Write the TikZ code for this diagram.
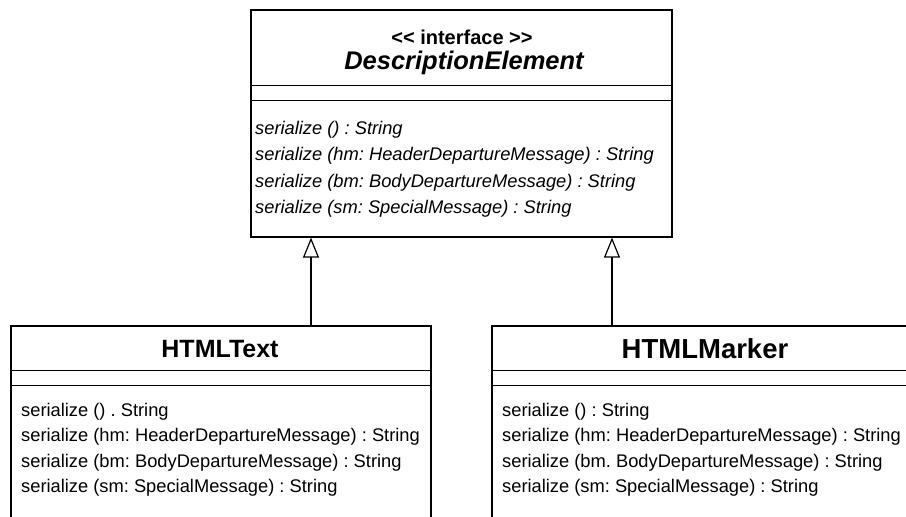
\documentclass[tikz,border=0pt]{standalone}
\usepackage{fontspec}
\setmainfont{Liberation Sans}
\usetikzlibrary{arrows.meta}
\frenchspacing
\begin{document}
\begin{tikzpicture}[x=1pt,y=-1pt,
  umlbox/.style={draw=black, line width=1.2pt, inner sep=0pt, fill=white},
  rule/.style={draw=black, line width=1.3pt},
  op/.style={anchor=base west, inner sep=0pt, font=\fontsize{18.3}{22}\selectfont},
  iop/.style={op, font=\fontsize{18.3}{22}\selectfont\itshape},
  realize/.style={draw=black, line width=1.2pt,
    -{Triangle[open, length=20pt, width=16pt, line width=1.2pt]}}]
\useasboundingbox (0,0) rectangle (906,517);
\clip (0,0) rectangle (906,517);
\fill[white] (0,0) rectangle (906,517);

% interface DescriptionElement
\node[umlbox, minimum width=421pt, minimum height=227pt] (iface) at (461.5,123.5) {};
\draw[rule] ([yshift=-76pt]iface.north west) -- ([yshift=-76pt]iface.north east);
\draw[rule] ([yshift=-91pt]iface.north west) -- ([yshift=-91pt]iface.north east);
\node[inner sep=0pt, font=\fontsize{20}{24}\selectfont\bfseries] (stereo) at (462,37)
  {<\kern0pt< interface >\kern0pt>};
\node[inner sep=0pt, font=\fontsize{25.5}{30}\selectfont\bfseries\itshape] (ifname) at (464,63) {DescriptionElement};
\node[iop] (i1) at (255,134) {serialize () : String};
\node[iop] (i2) at (255,160.5) {serialize (hm: HeaderDepartureMessage) : String};
\node[iop] (i3) at (255,187) {serialize (bm: BodyDepartureMessage) : String};
\node[iop] (i4) at (255,213.5) {serialize (sm: SpecialMessage) : String};

% class HTMLText (continues below the lower edge)
\node[umlbox, minimum width=420pt, minimum height=240pt] (ht) at (221,446) {};
\draw[rule] ([yshift=-45pt]ht.north west) -- ([yshift=-45pt]ht.north east);
\draw[rule] ([yshift=-60pt]ht.north west) -- ([yshift=-60pt]ht.north east);
\node[inner sep=0pt, font=\fontsize{25}{30}\selectfont\bfseries] (htname) at (220,349) {HTMLText};
\node[op] (t1) at (21,416) {serialize () . String};
\node[op] (t2) at (21,441.5) {serialize (hm: HeaderDepartureMessage) : String};
\node[op] (t3) at (21,467) {serialize (bm: BodyDepartureMessage) : String};
\node[op] (t4) at (21,492.5) {serialize (sm: SpecialMessage) : String};

% class HTMLMarker (continues past the right and lower edges)
\node[umlbox, minimum width=440pt, minimum height=240pt] (hm) at (712,446) {};
\draw[rule] ([yshift=-45pt]hm.north west) -- ([yshift=-45pt]hm.north east);
\draw[rule] ([yshift=-60pt]hm.north west) -- ([yshift=-60pt]hm.north east);
\node[inner sep=0pt, font=\fontsize{27.5}{32}\selectfont\bfseries] (hmname) at (705,349) {HTMLMarker};
\node[op] (m1) at (502,416) {serialize () : String};
\node[op] (m2) at (502,441.5) {serialize (hm: HeaderDepartureMessage) : String};
\node[op] (m3) at (502,467) {serialize (bm. BodyDepartureMessage) : String};
\node[op] (m4) at (502,492.5) {serialize (sm: SpecialMessage) : String};

% realization arrows
\coordinate (ax1) at (311,0);
\coordinate (ax2) at (612,0);
\draw[realize] (ax1 |- ht.north) -- (ax1 |- iface.south);
\draw[realize] (ax2 |- hm.north) -- (ax2 |- iface.south);
\end{tikzpicture}
\end{document}
